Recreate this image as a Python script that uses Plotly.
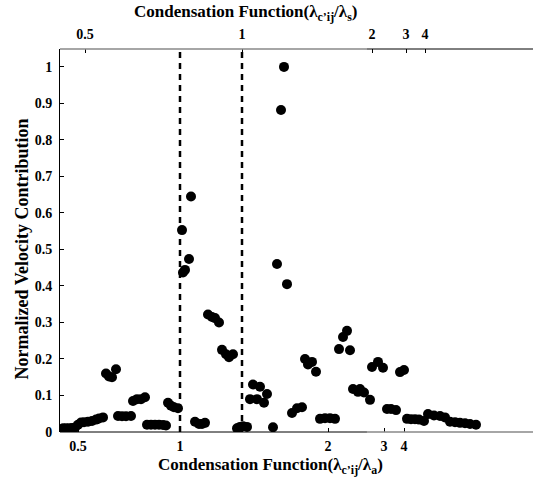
import plotly.graph_objects as go

# sample positions along the (non-uniform) condensation-function axis, arbitrary units
positions = [3, 6, 9, 12, 15, 18, 21, 24, 28, 32, 36, 39, 43,
             46, 49, 52, 56,
             58, 62, 66, 71,
             73, 77, 81, 85,
             87, 91, 95, 99, 103, 106,
             108, 111, 114, 118,
             122, 123, 125, 129, 131,
             135, 139, 142, 145,
             148, 152, 155, 159,
             162, 166, 169, 173,
             177, 180, 183, 187,
             190, 193, 197, 200, 204, 207,
             213, 217, 221, 224, 227,
             232, 237, 242,
             245, 248, 252, 256,
             260, 265, 270, 275,
             279, 283, 287, 290,
             293, 298, 300, 304, 310,
             312, 318, 323,
             327, 331, 336,
             340, 344,
             347, 351, 355, 359, 364,
             368, 374, 380, 385,
             390, 395, 400, 405, 410, 416]

velocity = [0.010, 0.010, 0.010, 0.011, 0.012, 0.020, 0.026, 0.027, 0.028, 0.030, 0.034, 0.037, 0.040,
            0.160, 0.152, 0.150, 0.172,
            0.044, 0.043, 0.043, 0.044,
            0.085, 0.090, 0.090, 0.095,
            0.020, 0.020, 0.020, 0.020, 0.019, 0.018,
            0.080, 0.072, 0.068, 0.065,
            0.553, 0.437, 0.444, 0.474, 0.645,
            0.028, 0.022, 0.022, 0.025,
            0.322, 0.315, 0.312, 0.300,
            0.225, 0.213, 0.205, 0.213,
            0.010, 0.014, 0.016, 0.014,
            0.090, 0.130, 0.090, 0.124, 0.080, 0.104,
            0.013, 0.460, 0.882, 1.000, 0.405,
            0.052, 0.065, 0.068,
            0.200, 0.185, 0.192, 0.165,
            0.036, 0.038, 0.038, 0.036,
            0.227, 0.260, 0.277, 0.224,
            0.118, 0.110, 0.118, 0.108, 0.088,
            0.178, 0.192, 0.176,
            0.063, 0.063, 0.060,
            0.164, 0.170,
            0.036, 0.035, 0.035, 0.034, 0.030,
            0.049, 0.045, 0.044, 0.040,
            0.028, 0.027, 0.025, 0.024, 0.022, 0.020]

bottom_tick_pos = [18, 120, 268, 324, 344]
bottom_tick_text = ["0.5", "1", "2", "3", "4"]
top_tick_pos = [25, 182, 312, 346, 365]
top_tick_text = ["0.5", "1", "2", "3", "4"]
y_ticks = [0, 0.1, 0.2, 0.3, 0.4, 0.5, 0.6, 0.7, 0.8, 0.9, 1]
y_tick_text = ["0", "0.1", "0.2", "0.3", "0.4", "0.5", "0.6", "0.7", "0.8", "0.9", "1"]

X_RANGE = [0, 473]
Y_RANGE = [0, 1.049]
FONT = "Liberation Serif"

fig = go.Figure()
fig.add_trace(go.Scatter(x=positions, y=velocity, mode="markers",
                         marker=dict(color="black", size=10, line=dict(width=0)),
                         showlegend=False))
# invisible trace to activate the top axis
fig.add_trace(go.Scatter(x=[positions[0]], y=[velocity[0]], xaxis="x2", mode="markers",
                         marker=dict(opacity=0), showlegend=False, hoverinfo="skip"))

tickfont = dict(family=FONT, size=14, color="black", weight="bold")

fig.update_layout(
    width=533, height=481,
    margin=dict(l=60, r=0, t=49, b=49),
    plot_bgcolor="white", paper_bgcolor="white",
    xaxis=dict(range=X_RANGE, tickvals=bottom_tick_pos, ticktext=bottom_tick_text,
               ticks="inside", ticklen=4, tickcolor="black", tickwidth=1,
               showgrid=False, zeroline=False, showline=False, tickfont=tickfont,
               ticklabelstandoff=4),
    xaxis2=dict(range=X_RANGE, overlaying="x", side="top", tickvals=top_tick_pos,
                ticktext=top_tick_text, ticks="inside", ticklen=4, tickcolor="black",
                tickwidth=1, showgrid=False, zeroline=False, showline=False, tickfont=tickfont,
                ticklabelstandoff=6),
    yaxis=dict(range=Y_RANGE, tickvals=y_ticks, ticktext=y_tick_text, ticks="inside",
               ticklen=4, tickcolor="black", showgrid=False, zeroline=False,
               showline=True, linecolor="black", linewidth=1, tickfont=tickfont,
               ticklabelstandoff=4),
)

# axis spines: bottom black then grey, top grey then black
split = 0.649
fig.add_shape(type="line", xref="paper", yref="paper", x0=0, x1=split, y0=0, y1=0,
              line=dict(color="black", width=1))
fig.add_shape(type="line", xref="paper", yref="paper", x0=split, x1=1, y0=0, y1=0,
              line=dict(color="#888888", width=1.5))
fig.add_shape(type="line", xref="paper", yref="paper", x0=0, x1=split, y0=1, y1=1,
              line=dict(color="#888888", width=1.5))
fig.add_shape(type="line", xref="paper", yref="paper", x0=split, x1=1, y0=1, y1=1,
              line=dict(color="black", width=1))

# dashed reference lines at condensation function = 1 on each axis
fig.add_shape(type="line", xref="x", yref="paper", x0=bottom_tick_pos[1], x1=bottom_tick_pos[1],
              y0=0, y1=1, line=dict(color="black", width=2.5, dash="6px,5px"))
fig.add_shape(type="line", xref="x2", yref="paper", x0=top_tick_pos[1], x1=top_tick_pos[1],
              y0=0, y1=1, line=dict(color="black", width=2.5, dash="6px,5px"))

titlefont = dict(family=FONT, size=17, color="black", weight="bold")
fig.add_annotation(text="Condensation Function(λ<sub>c’ij</sub>/λ<sub>a</sub>)",
                   xref="paper", yref="paper", x=0.444, y=-0.088, showarrow=False,
                   xanchor="center", yanchor="middle", font=titlefont)
fig.add_annotation(text="Condensation Function(λ<sub>c’ij</sub>/λ<sub>s</sub>)",
                   xref="paper", yref="paper", x=0.393, y=1.095, showarrow=False,
                   xanchor="center", yanchor="middle", font=titlefont)
fig.add_annotation(text="Normalized Velocity Contribution", textangle=-90,
                   xref="paper", yref="paper", x=-0.080, y=0.477, showarrow=False,
                   xanchor="center", yanchor="middle",
                   font=dict(family=FONT, size=18, color="black", weight="bold"))

# remove the default page margin so the figure fills the window exactly
fig.write_html("out.html", config={"displayModeBar": False},
               post_script="document.body.style.margin='0';")
